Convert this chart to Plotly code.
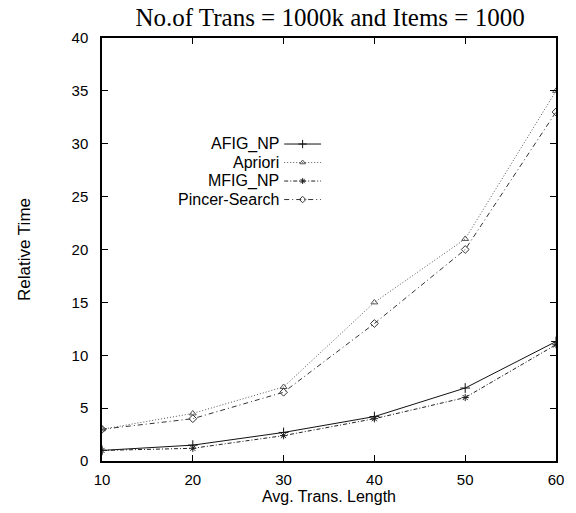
import plotly.graph_objects as go

x_vals = [10, 20, 30, 40, 50, 60]
afig_np = [1.0, 1.5, 2.7, 4.2, 6.9, 11.3]
apriori = [3.0, 4.5, 7.0, 15.0, 21.0, 35.0]
mfig_np = [1.0, 1.2, 2.4, 4.0, 6.0, 11.0]
pincer = [3.0, 4.0, 6.5, 13.0, 20.0, 33.0]
series_names = ["AFIG_NP", "Apriori", "MFIG_NP", "Pincer-Search"]

styles = [
    dict(dash="solid", symbol="cross-thin", color="#111", msize=7),
    dict(dash="1px,2px", symbol="triangle-up-open", color="#555", msize=6),
    dict(dash="4px,2px,1px,2px", symbol="asterisk-open", color="#222", msize=6),
    dict(dash="5px,3px,1px,3px", symbol="diamond-open", color="#333", msize=6),
]
data = [afig_np, apriori, mfig_np, pincer]

fig = go.Figure()
for name, ys, st in zip(series_names, data, styles):
    fig.add_trace(go.Scatter(
        x=x_vals, y=ys, mode="lines+markers", name=name,
        line=dict(color=st["color"], width=1, dash=st["dash"]),
        marker=dict(symbol=st["symbol"], size=st["msize"], color=st["color"],
                    line=dict(color=st["color"], width=1)),
        showlegend=False,
    ))

# Manual legend (text right-aligned, sample on the right) on overlay axes
leg_y = [0.0, 1.0, 2.0, 3.0]
for i, (name, st) in enumerate(zip(series_names, styles)):
    fig.add_trace(go.Scatter(
        x=[0.0, 1.0], y=[leg_y[i]] * 2, mode="lines", xaxis="x2", yaxis="y2",
        line=dict(color=st["color"], width=1, dash=st["dash"]), showlegend=False,
        hoverinfo="skip",
    ))
    fig.add_trace(go.Scatter(
        x=[0.5], y=[leg_y[i]], mode="markers", xaxis="x2", yaxis="y2",
        marker=dict(symbol=st["symbol"], size=st["msize"] - 1, color=st["color"],
                    line=dict(color=st["color"], width=1)),
        showlegend=False, hoverinfo="skip",
    ))
    fig.add_annotation(
        x=-0.1, y=leg_y[i], xref="x2", yref="y2", text=name, showarrow=False,
        xanchor="right", yanchor="middle",
        font=dict(family="Liberation Sans, Arial, sans-serif", size=16, color="black"),
    )

axis_common = dict(
    showgrid=False, zeroline=False, showline=True, linecolor="black", linewidth=1.5,
    mirror="ticks", ticks="inside", ticklen=6, tickcolor="black", tickwidth=1,
    tickfont=dict(family="Liberation Sans, Arial, sans-serif", size=15, color="black"),
)

fig.update_layout(
    width=576, height=513,
    margin=dict(l=102, r=18, t=38, b=52),
    paper_bgcolor="white", plot_bgcolor="white",
    title=dict(text="No.of Trans = 1000k and Items = 1000", x=0.573, xanchor="center",
               y=0.966, yanchor="middle",
               font=dict(family="Liberation Serif, DejaVu Serif, serif", size=25, color="black")),
    xaxis=dict(range=[10, 60], tickvals=x_vals, ticklabelstandoff=4, **axis_common,
               title=dict(text="Avg. Trans. Length", standoff=0,
                          font=dict(family="Liberation Sans, Arial, sans-serif", size=16, color="black"))),
    yaxis=dict(range=[0, 40], tickvals=list(range(0, 41, 5)), ticklabelstandoff=9, **axis_common,
               title=dict(text="Relative Time", standoff=37,
                          font=dict(family="Liberation Sans, Arial, sans-serif", size=17, color="black"))),
    xaxis2=dict(overlaying="x", range=[-4.946, 7.378], visible=False, fixedrange=True),
    yaxis2=dict(overlaying="y", range=[17.13, -5.73], visible=False, fixedrange=True),
)

fig.write_html("out.html")
